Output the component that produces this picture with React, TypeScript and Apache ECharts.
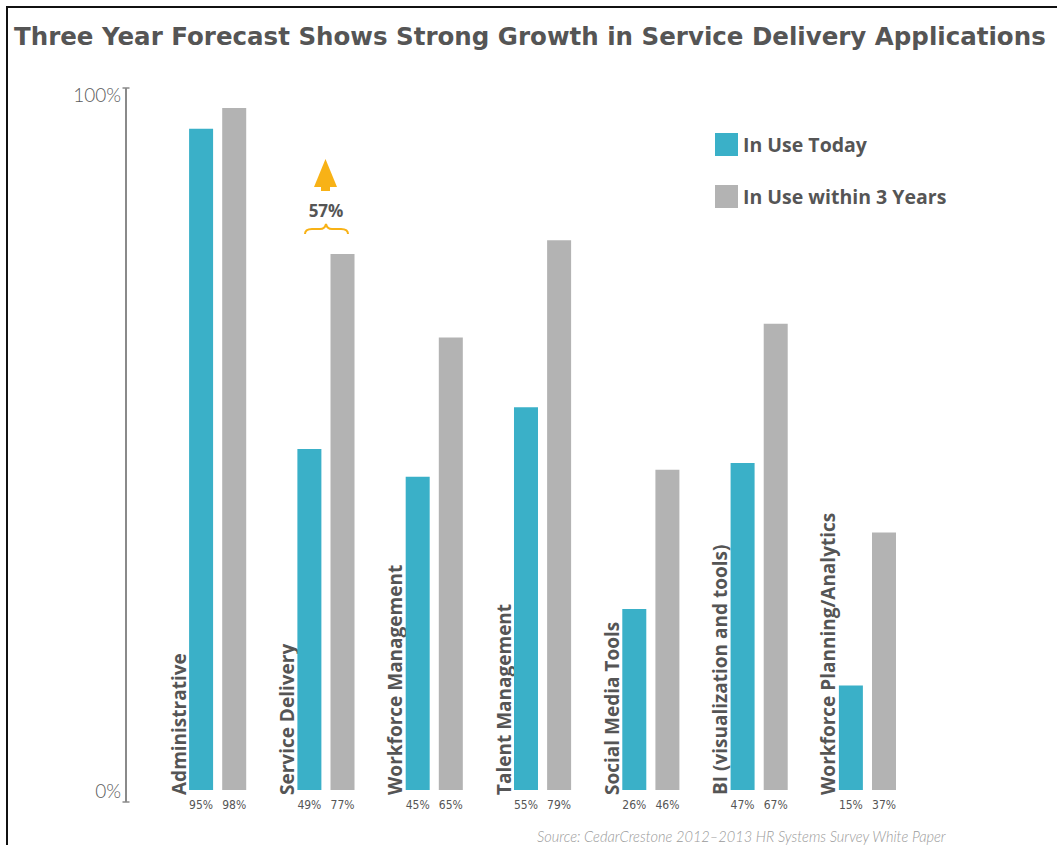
import React, { useEffect, useRef } from "react";
import * as echarts from "echarts";

const categories = [
  "Administrative",
  "Service Delivery",
  "Workforce Management",
  "Talent Management",
  "Social Media Tools",
  "BI (visualization and tools)",
  "Workforce Planning/Analytics",
];
const inUseToday = [95, 49, 45, 55, 26, 47, 15];
const inUseWithin3Years = [98, 77, 65, 79, 46, 67, 37];
const yTicks = [0, 100];
const seriesNames = ["In Use Today", "In Use within 3 Years"];
const title = "Three Year Forecast Shows Strong Growth in Service Delivery Applications";
const annotationText = "57%";
const sourceText = "Source: CedarCrestone 2012–2013 HR Systems Survey White Paper";

const TEAL = "#3AB0C8";
const GRAY = "#B3B3B3";
const YELLOW = "#F8B216";
const TEXT = "#555555";
const BOLD_FONT = "'Open Sans', 'DejaVu Sans', sans-serif";
const TITLE_FONT = "'DejaVu Sans', 'Open Sans', sans-serif";
const NARROW_FONT = "'Liberation Sans Narrow', 'DejaVu Sans Condensed', 'Roboto Condensed', sans-serif";

echarts.graphic.registerShape(
  "brace",
  echarts.graphic.extendPath(
    "M0,10 Q0,5 7,5 L15,5 Q20,5 21,0 Q22,5 27,5 L36,5 Q43,5 43,10",
    {}
  )
);

export default function App() {
  const ref = useRef<HTMLDivElement>(null);
  useEffect(() => {
    if (!ref.current) return;
    const chart = echarts.init(ref.current, undefined, { renderer: "svg" });
    const option: any = {
      animation: false,
      backgroundColor: "#ffffff",
      title: {
        text: title,
        left: 9,
        top: 19,
        textStyle: { color: TEXT, fontSize: 24.5, fontWeight: "bold", fontFamily: TITLE_FONT },
      },
      legend: {
        data: seriesNames,
        orient: "vertical",
        left: 710,
        top: 128,
        icon: "rect",
        itemWidth: 23,
        itemHeight: 23,
        itemGap: 29,
        textStyle: { color: TEXT, fontSize: 19.5, fontWeight: "bold", fontFamily: BOLD_FONT },
        selectedMode: false,
      },
      grid: { left: 163.5, right: 135.4, top: 94, bottom: 55, containLabel: false },
      xAxis: {
        type: "category",
        data: categories,
        axisLine: { show: false },
        axisTick: { show: false },
        axisLabel: { show: false },
      },
      yAxis: {
        type: "value",
        min: yTicks[0],
        max: yTicks[yTicks.length - 1],
        interval: yTicks[1] - yTicks[0],
        offset: 37.5,
        axisLine: { show: false },
        axisTick: { show: false },
        splitLine: { show: false },
        axisLabel: {
          formatter: "{value}%",
          margin: 5,
          color: "#5c5c5c",
          fontSize: 19,
          fontWeight: 300,
          fontFamily: "Lato, 'Open Sans', sans-serif",
        },
      },
      series: [
        {
          name: seriesNames[0],
          type: "bar",
          data: inUseToday,
          barWidth: 24,
          barGap: "38%",
          itemStyle: { color: TEAL },
          label: {
            show: true,
            position: "bottom",
            distance: 9,
            formatter: "{c}%",
            color: TEXT,
            fontSize: 12,
            fontFamily: NARROW_FONT,
          },
        },
        {
          name: seriesNames[1],
          type: "bar",
          data: inUseWithin3Years,
          barWidth: 24,
          itemStyle: { color: GRAY },
          label: {
            show: true,
            position: "bottom",
            distance: 9,
            formatter: "{c}%",
            color: TEXT,
            fontSize: 12,
            fontFamily: NARROW_FONT,
          },
        },
        {
          type: "custom",
          silent: true,
          clip: false,
          data: categories.map((_, i) => [i, 0]),
          renderItem: (params: any, api: any) => {
            const p = api.coord([api.value(0), 0]);
            return {
              type: "text",
              x: p[0] - 39,
              y: p[1] + 5,
              rotation: Math.PI / 2,
              style: {
                text: categories[params.dataIndex],
                fill: TEXT,
                fontSize: 19,
                fontWeight: "bold",
                fontFamily: BOLD_FONT,
                align: "left",
                verticalAlign: "middle",
              },
            };
          },
        },
      ],
      graphic: [
        {
          type: "polyline",
          shape: { points: [[7, 845], [7, 7], [1057, 7]] },
          style: { stroke: "#111", lineWidth: 2, fill: "none" },
          silent: true,
        },
        { type: "line", shape: { x1: 126, y1: 88, x2: 126, y2: 802 }, style: { stroke: "#8a8a8a", lineWidth: 2 } },
        { type: "line", shape: { x1: 122.5, y1: 88, x2: 129.5, y2: 88 }, style: { stroke: "#8a8a8a", lineWidth: 1.5 } },
        { type: "line", shape: { x1: 122.5, y1: 802, x2: 129.5, y2: 802 }, style: { stroke: "#8a8a8a", lineWidth: 1.5 } },
        {
          type: "polygon",
          shape: { points: [[325.5, 159], [337, 187], [314, 187]] },
          style: { fill: YELLOW },
        },
        { type: "rect", shape: { x: 321, y: 183, width: 9, height: 8 }, style: { fill: YELLOW } },
        {
          type: "text",
          x: 326,
          y: 210,
          style: {
            text: annotationText,
            fill: TEXT,
            fontSize: 17,
            fontWeight: "bold",
            fontFamily: BOLD_FONT,
            align: "center",
            verticalAlign: "middle",
          },
        },
        {
          type: "brace",
          x: 305,
          y: 224,
          style: { stroke: YELLOW, lineWidth: 2, fill: "none" },
        },
        {
          type: "text",
          x: 537,
          y: 836,
          style: {
            text: sourceText,
            fill: "#9a9a9a",
            fontSize: 14.6,
            fontStyle: "italic",
            fontWeight: 300,
            fontFamily: "Lato, 'Open Sans', sans-serif",
            align: "left",
            verticalAlign: "middle",
          },
        },
      ],
    };
    chart.setOption(option);
    return () => chart.dispose();
  }, []);
  return (
    <div
      ref={ref}
      style={{ position: "fixed", left: 0, top: 0, width: 1057, height: 845, background: "#fff" }}
    />
  );
}
